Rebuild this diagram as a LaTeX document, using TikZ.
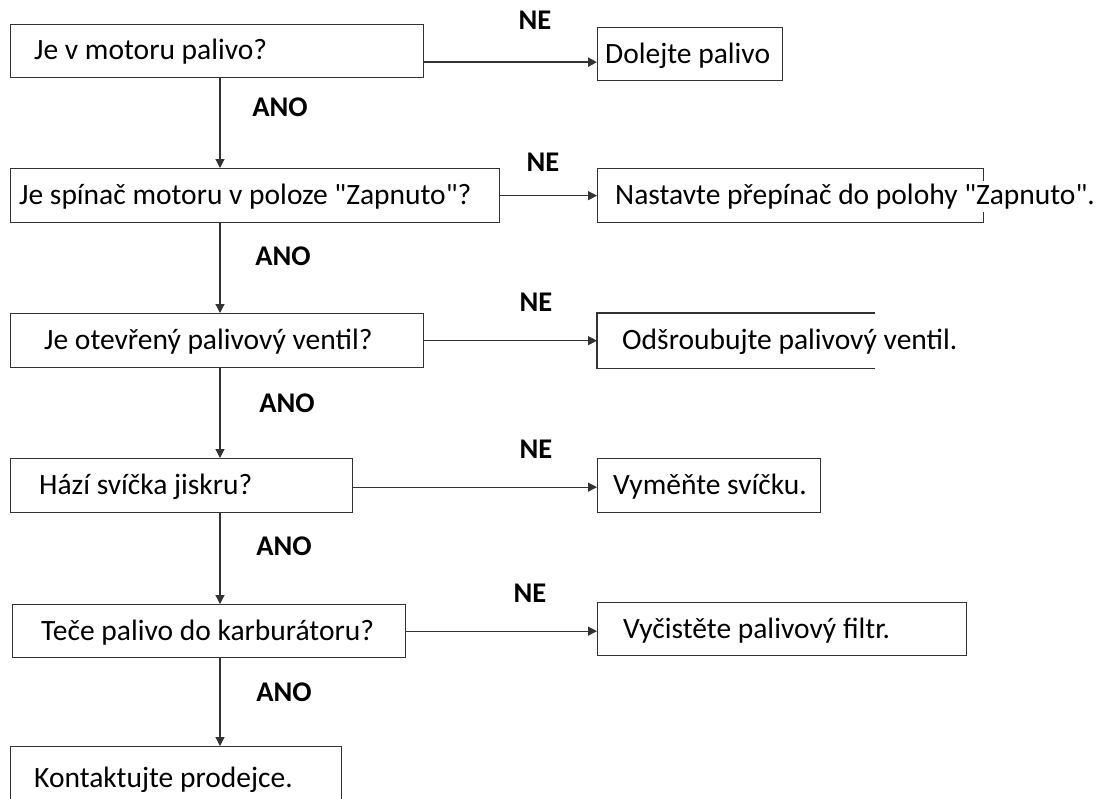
\documentclass[tikz,border=0pt]{standalone}
\usepackage{fontspec}
\setmainfont{Carlito}
\usetikzlibrary{arrows.meta}

\tikzset{
  box/.style={draw=black!80, line width=1.3pt, anchor=north west, inner sep=0pt},
  txt/.style={anchor=base west, inner sep=3pt, font=\fontsize{29.5}{33}\selectfont},
  cover/.style={txt, fill=white},
  yes/.style={font=\bfseries\fontsize{28.5}{32}\selectfont},
  link/.style={draw=black!80, line width=1.2pt, -{Triangle[length=9pt,width=9pt]}}
}

\begin{document}
\begin{tikzpicture}[x=1pt, y=-1pt]
  \useasboundingbox (0,0) rectangle (1099,798);

  % otazky vlevo
  \node[box, minimum width=413pt, minimum height=53pt] (q1) at (10,24) {};
  \node[box, minimum width=489pt, minimum height=54pt] (q2) at (10,168) {};
  \node[box, minimum width=413pt, minimum height=54pt] (q3) at (10,313) {};
  \node[box, minimum width=342pt, minimum height=54pt] (q4) at (10,458) {};
  \node[box, minimum width=393pt, minimum height=53pt] (q5) at (12,604) {};
  \node[box, minimum width=331pt, minimum height=60pt] (q6) at (10,746) {};

  \node[txt] (q1t) at ([xshift=21pt, yshift=-8pt]q1.west) {Je v motoru palivo?};
  \node[txt] (q2t) at ([xshift=6pt, yshift=-9pt]q2.west) {Je spínač motoru v poloze \textquotedbl Zapnuto\textquotedbl ?};
  \node[txt] (q3t) at ([xshift=31pt, yshift=-9pt]q3.west) {Je otevřený palivový ventil?};
  \node[txt] (q4t) at ([xshift=26pt, yshift=-9pt]q4.west) {Hází svíčka jiskru?};
  \node[txt] (q5t) at ([xshift=26pt, yshift=-9pt]q5.west) {Teče palivo do karburátoru?};
  \node[txt] (q6t) at (31,787) {Kontaktujte prodejce.};

  % odpovedi vpravo
  \node[box, minimum width=185pt, minimum height=53pt] (a1) at (597,27) {};
  \node[box, minimum width=386pt, minimum height=54pt] (a2) at (597,168) {};
  \node[box, draw=none, minimum width=277pt, minimum height=54pt] (a3) at (597,313) {};
  \node[box, minimum width=223pt, minimum height=54pt] (a4) at (597,458) {};
  \node[box, minimum width=369pt, minimum height=53pt] (a5) at (597,602) {};
  \draw[draw=black!80, line width=1.3pt] (a3.north east) -- (a3.north west)
    -- (a3.south west) -- (a3.south east);

  \node[txt] (a1t) at ([xshift=5pt, yshift=-9pt]a1.west) {Dolejte palivo};
  \node[cover] (a2t) at ([xshift=15pt, yshift=-9pt]a2.west) {Nastavte přepínač do polohy \textquotedbl Zapnuto\textquotedbl .};
  \node[txt] (a3t) at ([xshift=22pt, yshift=-9pt]a3.west) {Odšroubujte palivový ventil.};
  \node[txt] (a4t) at ([xshift=13pt, yshift=-9pt]a4.west) {Vyměňte svíčku.};
  \node[txt] (a5t) at ([xshift=23pt, yshift=-9pt]a5.west) {Vyčistěte palivový filtr.};

  % ANO dolu
  \coordinate (spine) at (220,0);
  \draw[link] (q1.south -| spine) -- (q2.north -| spine);
  \draw[link] (q2.south -| spine) -- (q3.north -| spine);
  \draw[link] (q3.south -| spine) -- (q4.north -| spine);
  \draw[link] (q4.south -| spine) -- (q5.north -| spine);
  \draw[link] (q5.south -| spine) -- (q6.north -| spine);

  \node[yes] (ano1) at (280,107) {ANO};
  \node[yes] (ano2) at (283,256) {ANO};
  \node[yes] (ano3) at (287,403) {ANO};
  \node[yes] (ano4) at (284,546) {ANO};
  \node[yes] (ano5) at (284,692) {ANO};

  % NE doprava
  \coordinate (n1) at ([yshift=-11pt]q1.east);
  \draw[link, line width=2.4pt] (n1) -- (n1 -| a1.west);
  \draw[link] (q2.east) -- (q2.east -| a2.west);
  \draw[link] (q3.east) -- (q3.east -| a3.west);
  \draw[link] ([yshift=-1.5pt]q4.east) -- ([yshift=-1.5pt]q4.east -| a4.west);
  \draw[link] (q5.east) -- (q5.east -| a5.west);

  \node[yes] (ne1) at (535,20) {NE};
  \node[yes] (ne2) at (543,162) {NE};
  \node[yes] (ne3) at (536,302) {NE};
  \node[yes] (ne4) at (536,449) {NE};
  \node[yes] (ne5) at (530,593) {NE};
\end{tikzpicture}
\end{document}
